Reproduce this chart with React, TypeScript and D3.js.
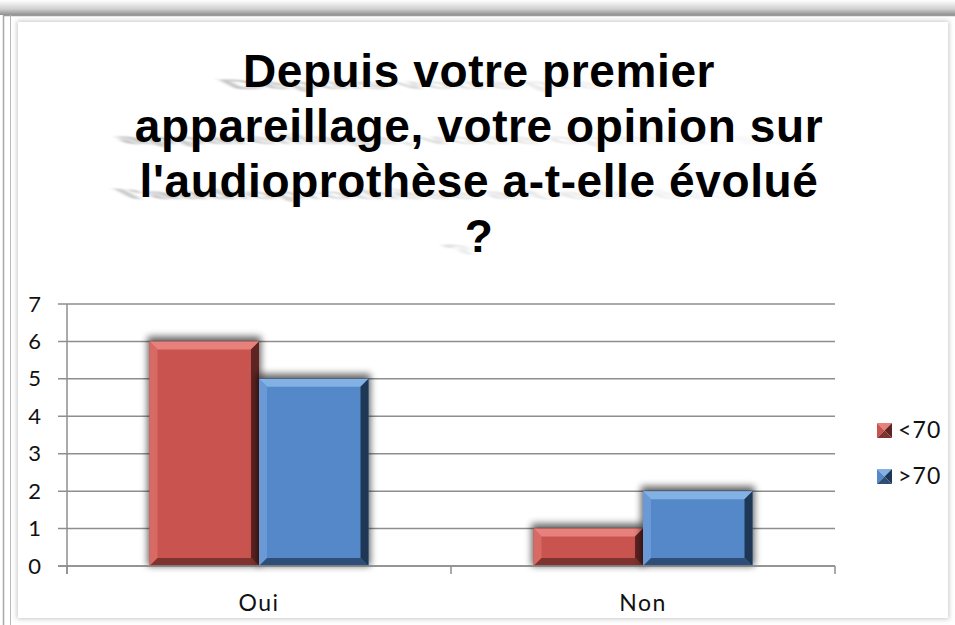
import React from "react";
import * as d3 from "d3";

const categories = ["Oui", "Non"];
const seriesNames = ["<70", ">70"];
const seriesValues = [
  [6, 1],
  [5, 2],
];
const yTicks = [0, 1, 2, 3, 4, 5, 6, 7];
const titleLines = [
  "Depuis votre premier",
  "appareillage, votre opinion sur",
  "l'audioprothèse a-t-elle évolué",
  "?",
];

const palette = [
  { main: "#C9544F", top: "#E8817C", left: "#D86A65", right: "#5E2422", bottom: "#7E3330" },
  { main: "#5588C8", top: "#82B1E6", left: "#6A9AD6", right: "#1E3755", bottom: "#2E4E78" },
];

const W = 955;
const H = 625;
const plotLeft = 67;
const plotRight = 835;
const plotTop = 304;
const plotBottom = 566;

function Bar({ x, y, w, h, c }: { x: number; y: number; w: number; h: number; c: typeof palette[0] }) {
  const b = Math.min(8, h / 2, w / 2);
  const x2 = x + w;
  const y2 = y + h;
  return (
    <g>
      <rect x={x - 2} y={y - 5} width={w + 4} height={h + 5} fill="#000" opacity={0.6} filter="url(#barShadow)" />
      <rect x={x} y={y} width={w} height={h} fill={c.main} />
      <polygon points={`${x},${y} ${x2},${y} ${x2 - b},${y + b} ${x + b},${y + b}`} fill={c.top} />
      <polygon points={`${x},${y} ${x + b},${y + b} ${x + b},${y2 - b} ${x},${y2}`} fill={c.left} />
      <polygon points={`${x2},${y} ${x2},${y2} ${x2 - b},${y2 - b} ${x2 - b},${y + b}`} fill={c.right} />
      <polygon points={`${x},${y2} ${x + b},${y2 - b} ${x2 - b},${y2 - b} ${x2},${y2}`} fill={c.bottom} />
    </g>
  );
}

function LegendSwatch({ x, y, s, c }: { x: number; y: number; s: number; c: typeof palette[0] }) {
  const m = s / 2;
  return (
    <g>
      <polygon points={`${x},${y} ${x + s},${y} ${x + m},${y + m}`} fill={c.top} />
      <polygon points={`${x},${y} ${x + m},${y + m} ${x},${y + s}`} fill={c.main} />
      <polygon points={`${x + s},${y} ${x + s},${y + s} ${x + m},${y + m}`} fill={c.right} />
      <polygon points={`${x},${y + s} ${x + m},${y + m} ${x + s},${y + s}`} fill={c.bottom} />
    </g>
  );
}

export default function App() {
  const y = d3.scaleLinear().domain([0, 7]).range([plotBottom, plotTop]);
  const x0 = d3.scaleBand<string>().domain(categories).range([plotLeft, plotRight]).padding(0);
  const x1 = d3
    .scaleBand<string>()
    .domain(seriesNames)
    .range([0, x0.bandwidth()])
    .paddingInner(0)
    .paddingOuter(0.753);

  const labelFont = "'Lato', 'DejaVu Sans', sans-serif";
  const titleFont = "'Liberation Sans', Arial, sans-serif";
  const boundaries = [plotLeft, ...categories.map((c) => (x0(c) as number) + x0.bandwidth())];

  return (
    <svg width={W} height={H} style={{ position: "absolute", left: 0, top: 0, background: "#fff" }}>
      <defs>
        <linearGradient id="topBand" x1="0" y1="0" x2="0" y2="1">
          <stop offset="0" stopColor="#ffffff" />
          <stop offset="0.6" stopColor="#d0d0d0" />
          <stop offset="1" stopColor="#8f8f8f" />
        </linearGradient>
        <linearGradient id="shadowFade" x1="0" y1="0" x2="1" y2="0">
          <stop offset="0" stopColor="#444" stopOpacity={1} />
          <stop offset="0.5" stopColor="#666" stopOpacity={0.6} />
          <stop offset="1" stopColor="#888" stopOpacity={0.15} />
        </linearGradient>
        <filter id="barShadow" x="-20%" y="-20%" width="140%" height="140%">
          <feGaussianBlur stdDeviation="3.5" />
        </filter>
        <filter id="panelShadow" x="-5%" y="-5%" width="110%" height="110%">
          <feGaussianBlur stdDeviation="2.5" />
        </filter>
        <filter id="titleShadow" x="-20%" y="-80%" width="140%" height="260%">
          <feGaussianBlur stdDeviation="3.2" />
        </filter>
      </defs>

      {/* frame */}
      <rect x={0} y={0} width={W} height={15} fill="url(#topBand)" />
      <line x1={3} y1={15.5} x2={W} y2={15.5} stroke="#9a9a9a" strokeWidth={1.5} />
      <line x1={3.5} y1={15} x2={3.5} y2={H} stroke="#a8a8a8" strokeWidth={1.5} />
      <line x1={10.5} y1={15} x2={10.5} y2={H} stroke="#b8b8b8" strokeWidth={1} />
      <rect x={17} y={21} width={932} height={598} fill="#c8c8c8" filter="url(#panelShadow)" />
      <rect x={18} y={22} width={930} height={596} fill="#ffffff" />

      {/* title shadow */}
      {titleLines.map((t, i) => {
        const by = 89 + i * 55;
        return (
          <g key={"ts" + i} transform={`translate(470, ${by}) skewX(62) scale(1, 0.3)`} opacity={0.4}>
            <text
              x={0}
              y={0}
              textAnchor="middle"
              fontFamily={titleFont}
              fontWeight="bold"
              fontSize={46}
              letterSpacing={0.6}
              fill="url(#shadowFade)"
              filter="url(#titleShadow)"
            >
              {t}
            </text>
          </g>
        );
      })}
      {titleLines.map((t, i) => (
        <text
          key={"t" + i}
          x={479}
          y={87 + i * 55}
          textAnchor="middle"
          fontFamily={titleFont}
          fontWeight="bold"
          fontSize={46}
          letterSpacing={0.6}
          fill="#000"
        >
          {t}
        </text>
      ))}

      {/* gridlines */}
      {yTicks.map((t) => (
        <line key={"g" + t} x1={58} x2={plotRight} y1={y(t)} y2={y(t)} stroke="#8e8e8e" strokeWidth={1.5} />
      ))}
      {/* y axis */}
      <line x1={plotLeft} x2={plotLeft} y1={plotTop} y2={plotBottom + 8} stroke="#8e8e8e" strokeWidth={1.5} />
      {boundaries.map((bx, i) => (
        <line key={"xt" + i} x1={bx} x2={bx} y1={plotBottom} y2={plotBottom + 8} stroke="#8e8e8e" strokeWidth={1.5} />
      ))}
      {yTicks.map((t) => (
        <text
          key={"yl" + t}
          x={41}
          y={y(t) + 7.5}
          textAnchor="end"
          fontFamily={labelFont}
          fontSize={22}
          fill="#111"
        >
          {t}
        </text>
      ))}

      {/* bars */}
      {categories.map((c, ci) =>
        seriesNames.map((s, si) => {
          const v = seriesValues[si][ci];
          const bx = (x0(c) as number) + (x1(s) as number);
          const top = y(v);
          return <Bar key={c + s} x={bx} y={top} w={x1.bandwidth()} h={y(0) - top} c={palette[si]} />;
        })
      )}
      <line x1={58} x2={plotRight} y1={y(0)} y2={y(0)} stroke="#8e8e8e" strokeWidth={1.5} />

      {/* category labels */}
      {categories.map((c) => (
        <text
          key={"cl" + c}
          x={(x0(c) as number) + x0.bandwidth() / 2}
          y={611}
          textAnchor="middle"
          fontFamily={labelFont}
          fontSize={23}
          letterSpacing={1.5}
          fill="#111"
        >
          {c}
        </text>
      ))}

      {/* legend */}
      {seriesNames.map((s, i) => (
        <g key={"lg" + s}>
          <LegendSwatch x={877} y={423 + i * 46} s={15} c={palette[i]} />
          <text x={898} y={438 + i * 46} fontFamily={labelFont} fontSize={23} letterSpacing={1.2} fill="#111">
            {s}
          </text>
        </g>
      ))}
    </svg>
  );
}
